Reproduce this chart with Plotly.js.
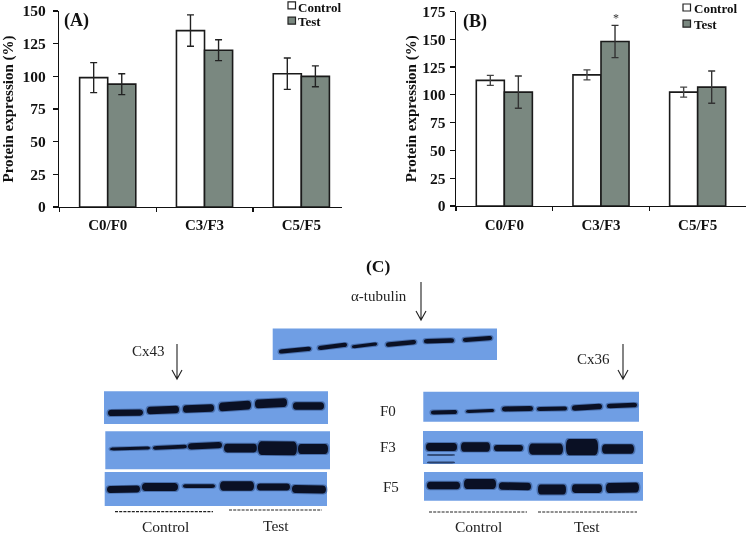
<!DOCTYPE html>
<html><head><meta charset="utf-8">
<script src="https://cdn.plot.ly/plotly-3.0.1.min.js"></script>
<style>html,body{margin:0;padding:0;background:#fff;overflow:hidden}#c{width:747px;height:536px;filter:blur(0.45px)}</style>
</head><body><div id="c"></div>
<script>
const categories = ['C0/F0','C3/F3','C5/F5'];
const controlA = [99,135,102];
const controlAErr = [11.5,12,12];
const testA = [94,120,100];
const testAErr = [8,8,8];
const controlB = [113,118,102.5];
const controlBErr = [4.5,4.5,4.5];
const testB = [102.5,148,107];
const testBErr = [14.5,14.5,14.5];
const ticksA = [0,25,50,75,100,125,150];
const ticksB = [0,25,50,75,100,125,150,175];

const W=747,H=536;
const px=x=>x/W, py=y=>1-y/H;
const SERIF='"Liberation Serif","Times New Roman",serif';
const INK='#111';

function bar(name,y,err,color,xa,ya,errColor){
  return {type:'bar',name,x:categories,y,xaxis:xa,yaxis:ya,showlegend:false,
    marker:{color,line:{color:'#1a1a1a',width:1.6}},
    error_y:{type:'data',array:err,visible:true,color:errColor||'#222',thickness:1.4,width:3.5},
    hoverinfo:'x+y'};
}
const traces=[
  bar('Control',controlA,controlAErr,'#ffffff','x','y'),
  bar('Test',testA,testAErr,'#7a8880','x','y'),
  bar('Control',controlB,controlBErr,'#ffffff','x2','y2','#444'),
  bar('Test',testB,testBErr,'#7a8880','x2','y2','#333')
];

function xaxis(d,anchor,range,st){return {domain:[px(d[0]),px(d[1])],anchor,type:'category',tickson:'boundaries',range,
  ticks:'outside',ticklen:4,tickwidth:1.2,tickcolor:INK,showline:true,linecolor:INK,linewidth:1.4,
  showgrid:false,zeroline:false,ticklabelstandoff:st,
  tickfont:{family:SERIF,size:15,color:INK,weight:700},fixedrange:true};}
function yaxis(d,anchor,range,vals,standoff,st){return {domain:[py(d[1]),py(d[0])],anchor,range,tickmode:'array',tickvals:vals,
  ticks:'outside',ticklen:5,tickwidth:1.2,tickcolor:INK,showline:true,linecolor:INK,linewidth:1.4,
  showgrid:false,zeroline:false,automargin:false,ticklabelstandoff:st,
  tickfont:{family:SERIF,size:15.5,color:INK,weight:700},
  title:{text:'Protein expression (%)',standoff,font:{family:SERIF,size:15,color:INK,weight:700}},fixedrange:true};}

const shapes=[], annotations=[];
function txt(x,y,text,size,bold,anchor,color){
  annotations.push({xref:'paper',yref:'paper',x:px(x),y:py(y),text:bold?'<b>'+text+'</b>':text,showarrow:false,borderpad:0,
    xanchor:anchor||'center',yanchor:'middle',font:{family:SERIF,size,color:color||INK}});
}
function rect(x0,y0,x1,y1,fill,lw,lc){
  shapes.push({type:'rect',xref:'paper',yref:'paper',x0:px(x0),x1:px(x1),y0:py(y0),y1:py(y1),
    fillcolor:fill,line:{width:lw||0,color:lc||fill}});
}
function P(x,y){return px(x)+','+py(y);}
function arrow(x,y0,y1){
  shapes.push({type:'path',xref:'paper',yref:'paper',
    path:`M ${P(x,y0)} L ${P(x,y1)} M ${P(x-5,y1-9)} L ${P(x,y1)} L ${P(x+5,y1-9)}`,
    line:{color:'#222',width:1.1}});
}
function dash(x0,x1,y){
  shapes.push({type:'line',xref:'paper',yref:'paper',x0:px(x0),x1:px(x1),y0:py(y),y1:py(y),
    line:{color:'#222',width:1.2,dash:'3px,1.2px'}});
}
function lens(x0,x1,yl,yr,t,fill,op){
  const w=x1-x0, a=x0+w*0.07, b=x1-w*0.07;
  const ya=yl+(yr-yl)*0.07, yb=yl+(yr-yl)*0.93;
  shapes.push({type:'path',xref:'paper',yref:'paper',fillcolor:fill,opacity:op,line:{width:0},
    path:`M ${P(x0,yl)} C ${P(x0,yl-t/3)} ${P(a-1,ya-t/2)} ${P(a+1,ya-t/2)} L ${P(b-1,yb-t/2)} C ${P(b+1,yb-t/2)} ${P(x1,yr-t/3)} ${P(x1,yr)} C ${P(x1,yr+t/3)} ${P(b+1,yb+t/2)} ${P(b-1,yb+t/2)} L ${P(a+1,ya+t/2)} C ${P(a-1,ya+t/2)} ${P(x0,yl+t/3)} ${P(x0,yl)} Z`});
}
function blot(box,bands){
  rect(box[0],box[1],box[2],box[3],'#6f9ee4');
  bands.forEach(b=>{
    lens(b[0]-1.5,b[1]+1.5,b[2],b[3],b[4]*1.25+1.8,'#2c4a82',0.55);
    lens(b[0],b[1],b[2],b[3],b[4]*1.25,'#0a1024',1);
  });
}
// western-blot panels: [left, right, y at left, y at right, thickness]
blot([272.7,328.5,497,360],[[279,311,351.7,348.7,3.4],[318,347,348,344.7,3.4],[352,377,346.7,344,2.6],[386,416,344.7,342,3.6],[424,454,341.2,340.4,3.6],[463,492,340,338,3.4]]);
blot([104,391.3,328,424],[[108,143,413,412.5,5],[147,179,410.5,409.5,6],[183,214,409,408,6],[219,251,407,405,7],[255,287,404,402.5,7],[293,324,406,406,6]]);
blot([105.3,431.3,330,469.3],[[110,150,449,448,2.4],[153,187,448,446.5,3],[188,222,446.5,445,5],[224,257,448,448,7],[258,297,448,448.5,11],[298,328,449,449,8]]);
blot([104.7,472,327,506],[[107,140,489.5,489,5.5],[142,178,487,487,6.5],[183,215,486,486,3],[220,254,486,486,7.5],[257,290,487,487,5.5],[292,326,489,489.5,6.5]]);
blot([423.3,391.7,639,421.7],[[431,457,412.5,412,3.2],[466,494,411.5,410.5,2.4],[502,533,409,408.5,4],[537,567,409,408.5,3.2],[572,602,408,406.5,4.4],[607,637,406,405,3.6]]);
blot([423,431,643,464],[[426,457,447,447,6.5],[461,490,447,447,7.5],[494,523,448,448,5],[529,563,449,449,9],[566,598,447,447,13],[602,634,449,449,7.5]]);
blot([424,472,643,500.7],[[427,460,485.5,485.5,6],[464,496,484,484,8],[499,531,486,486.5,6],[538,566,489.5,489.5,8],[572,602,488.5,488.5,7],[606,639,488,487.5,8]]);
lens(427,455,455,455,1.8,'#1a2c50',0.7);
lens(427,455,462.5,462.5,1.8,'#1a2c50',0.8);

arrow(421,282,320);arrow(177,344,379);arrow(623,344,379);
dash(115,213,511.7);dash(229,322,510);dash(429,527,512);dash(538,637,512);

txt(378,266,'(C)',17.5,true);
txt(379,296,'α-tubulin',15,false,'center','#222');
txt(148,351,'Cx43',15,false,'center','#222');
txt(593,359,'Cx36',15,false,'center','#222');
txt(388,411,'F0',15,false,'center','#222');txt(388,447,'F3',15,false,'center','#222');txt(391,487,'F5',15,false,'center','#222');
txt(165,526.5,'Control',15.5,false,'center','#222');txt(276,525,'Test',15.5,false,'center','#222');
txt(478,526.5,'Control',15.5,false,'center','#222');txt(587,526.5,'Test',15.5,false,'center','#222');

txt(63,20,'(A)',18,true,'left');
txt(462,21,'(B)',18,true,'left');
txt(616,18,'*',12,false,'center','#333');

// legend keys
function key(x,y,fill){rect(x,y-3.5,x+7.5,y+3.5,fill,1.2,'#222');}
key(288,5.3,'#fff');key(288,20.7,'#7a8880');
key(683,7.5,'#fff');key(683,23.7,'#7a8880');
txt(297,7,'Control',13,true,'left');txt(297,21,'Test',13,true,'left');
txt(693,8,'Control',13,true,'left');txt(693,24,'Test',13,true,'left');

const layout={width:W,height:H,margin:{l:0,r:0,t:0,b:0},paper_bgcolor:'#fff',plot_bgcolor:'#fff',
  barmode:'group',bargap:0.42,bargroupgap:0,showlegend:false,
  xaxis:xaxis([59.3,342],'y',[-0.5,2.42],4),yaxis:yaxis([11,207],'x',[0,150],ticksA,6.5,4),
  xaxis2:xaxis([456,746],'y2',[-0.5,2.5],5),yaxis2:yaxis([11.5,206],'x2',[0,175],ticksB,1.5,1),
  shapes,annotations};
Plotly.newPlot('c',traces,layout,{displayModeBar:false,staticPlot:true});
</script></body></html>
